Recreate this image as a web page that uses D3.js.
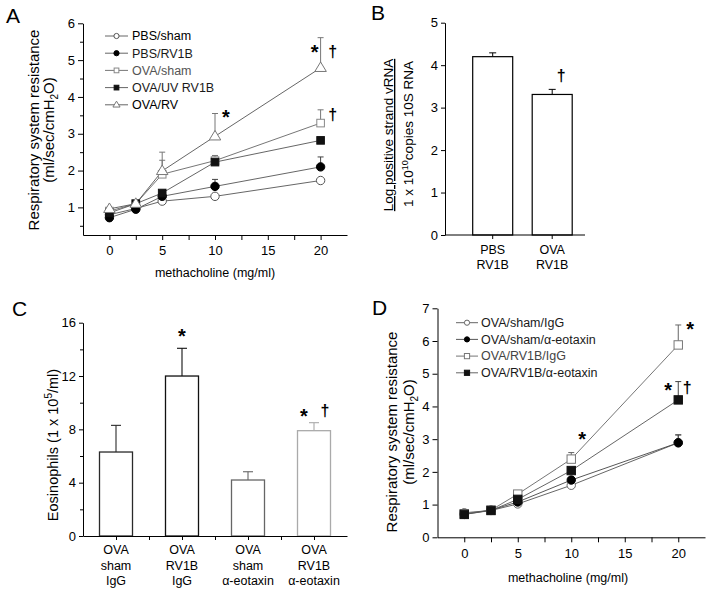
<!DOCTYPE html>
<html><head><meta charset="utf-8">
<script src="https://cdn.jsdelivr.net/npm/d3@7"></script>
<style>
body{margin:0;background:#fff;}
svg{display:block;font-family:"Liberation Sans",Arial,sans-serif;}
</style></head>
<body><svg id="c" width="709" height="591"></svg>
<script>
// ---------- DATA ----------
const doseA = [0, 2.5, 5, 10, 20];
const seriesNamesA = ["PBS/sham", "PBS/RV1B", "OVA/sham", "OVA/UV RV1B", "OVA/RV"];
const valsPBSsham = [0.80, 0.97, 1.17, 1.30, 1.73];
const valsPBSrv = [0.72, 0.95, 1.30, 1.57, 2.10];
const valsOVAsham = [0.90, 1.10, 1.90, 2.27, 3.29];
const valsOVAuv = [0.85, 1.10, 1.39, 2.23, 2.82];
const valsOVArv = [0.96, 1.10, 1.99, 2.93, 4.79];
const errPBSsham = [null, null, null, null, null];
const errPBSrv = [null, null, null, 1.76, 2.37];
const errOVAsham = [null, null, 2.28, 2.41, 3.65];
const errOVAuv = [null, null, null, null, null];
const errOVArv = [null, null, 2.50, 3.55, 5.61];
const yTicksA = [1, 2, 3, 4, 5, 6];
const xTicksA = [0, 5, 10, 15, 20];

const catsB = ["PBS RV1B", "OVA RV1B"];
const valsB = [4.20, 3.31];
const errB = [4.29, 3.43];
const yTicksB = [0, 1, 2, 3, 4, 5];

const catsC = ["OVA sham IgG", "OVA RV1B IgG", "OVA sham α-eotaxin", "OVA RV1B α-eotaxin"];
const valsC = [6.3, 12.0, 4.2, 7.9];
const errC = [8.3, 14.08, 4.82, 8.5];
const yTicksC = [0, 4, 8, 12, 16];

const doseD = [0, 2.5, 5, 10, 20];
const seriesNamesD = ["OVA/sham/IgG", "OVA/sham/α-eotaxin", "OVA/RV1B/IgG", "OVA/RV1B/α-eotaxin"];
const valsShamIgG = [0.75, 0.82, 1.02, 1.59, 2.89];
const valsShamEot = [0.70, 0.83, 1.08, 1.75, 2.89];
const valsRvIgG = [0.72, 0.83, 1.32, 2.39, 5.88];
const valsRvEot = [0.70, 0.82, 1.16, 2.04, 4.20];
const errShamIgG = [null, null, null, null, 3.13];
const errShamEot = [null, null, null, null, 3.13];
const errRvIgG = [null, null, null, 2.59, 6.49];
const errRvEot = [null, null, null, null, 4.76];
const yTicksD = [0, 1, 2, 3, 4, 5, 6, 7];
const xTicksD = [0, 5, 10, 15, 20];

// ---------- DRAW ----------
const svg = d3.select("#c");
const FONT = '"Liberation Sans",Arial,sans-serif';
const fmtInt = d3.format("d");

function styleAxis(g){
  g.selectAll("path.domain").attr("stroke","#000").attr("stroke-width",1);
  g.selectAll(".tick line").attr("stroke","#000").attr("stroke-width",1);
  g.selectAll(".tick text").attr("fill","#000").attr("font-size",13).attr("font-family",FONT);
}

function marker(g, type, x, y, s, stroke){
  if(type==="oc") g.append("circle").attr("cx",x).attr("cy",y).attr("r",s).attr("fill","#fff").attr("stroke",stroke).attr("stroke-width",1);
  if(type==="fc") g.append("circle").attr("cx",x).attr("cy",y).attr("r",s).attr("fill","#000").attr("stroke","#000");
  if(type==="os") g.append("rect").attr("x",x-s).attr("y",y-s).attr("width",2*s).attr("height",2*s).attr("fill","#fff").attr("stroke",stroke).attr("stroke-width",1);
  if(type==="fs") g.append("rect").attr("x",x-s).attr("y",y-s).attr("width",2*s).attr("height",2*s).attr("fill","#111").attr("stroke","#111");
  if(type==="ot"){
    const h=s*1.9, w=s*1.15;
    g.append("path").attr("d",`M${x},${y-h*0.62}L${x+w},${y+h*0.38}L${x-w},${y+h*0.38}Z`).attr("fill","#fff").attr("stroke",stroke).attr("stroke-width",1);
  }
}

function star(x, cy){
  svg.append("text").attr("x",x).attr("y",cy+11).attr("text-anchor","middle").attr("font-size",20).attr("font-weight","bold").attr("font-family",FONT).text("*");
}
function dagger(x, cy){
  svg.append("text").attr("x",x).attr("y",cy+4.5).attr("text-anchor","middle").attr("font-size",16).attr("font-weight","bold").attr("font-family",FONT).text("†");
}
function panelLetter(t, x, y){
  svg.append("text").attr("x",x).attr("y",y).attr("font-size",21).attr("font-family",FONT).text(t);
}
function resistanceTitle(x1, x2, cy){
  svg.append("text").attr("transform",`translate(${x1},${cy}) rotate(-90)`).attr("text-anchor","middle")
    .attr("font-size",15).attr("font-family",FONT).text("Respiratory system resistance");
  const t = svg.append("text").attr("transform",`translate(${x2},${cy}) rotate(-90)`).attr("text-anchor","middle")
    .attr("font-size",15).attr("font-family",FONT);
  t.append("tspan").text("(ml/sec/cmH");
  t.append("tspan").attr("font-size",10).attr("dy",4).text("2");
  t.append("tspan").attr("dy",-4).text("O)");
}

function linePanel(cfg){
  const x = d3.scaleLinear().domain(cfg.xDomain).range(cfg.xRange);
  const y = d3.scaleLinear().domain(cfg.yDomain).range(cfg.yRange);
  const g = svg.append("g");
  const ax = g.append("g").attr("transform",`translate(0,${cfg.yRange[0]})`)
    .call(d3.axisBottom(x).tickValues(cfg.xTicks).tickSize(5).tickSizeOuter(0).tickPadding(6).tickFormat(fmtInt));
  styleAxis(ax);
  const axm = g.append("g").attr("transform",`translate(0,${cfg.yRange[0]})`)
    .call(d3.axisBottom(x).tickValues(cfg.xMinor).tickSize(5).tickFormat(""));
  axm.select("path.domain").remove(); styleAxis(axm);
  const ay = g.append("g").attr("transform",`translate(${cfg.xRange[0]},0)`)
    .call(d3.axisLeft(y).tickValues(cfg.yTicks).tickSize(5).tickSizeOuter(0).tickPadding(3).tickFormat(fmtInt));
  styleAxis(ay);
  const aym = g.append("g").attr("transform",`translate(${cfg.xRange[0]},0)`)
    .call(d3.axisLeft(y).tickValues(cfg.yMinor).tickSize(3).tickFormat(""));
  aym.select("path.domain").remove(); styleAxis(aym);
  const line = d3.line().x((d,i)=>x(cfg.dose[i])).y(d=>y(d));
  cfg.series.forEach(s=>{
    g.append("path").attr("d",line(s.vals)).attr("fill","none").attr("stroke",s.line).attr("stroke-width",0.9);
  });
  cfg.series.forEach(s=>{
    s.err.forEach((e,i)=>{
      if(e==null) return;
      const px = x(cfg.dose[i]);
      g.append("line").attr("x1",px).attr("x2",px).attr("y1",y(s.vals[i])).attr("y2",y(e)).attr("stroke",s.ebar).attr("stroke-width",1);
      g.append("line").attr("x1",px-3).attr("x2",px+3).attr("y1",y(e)).attr("y2",y(e)).attr("stroke",s.ebar).attr("stroke-width",1);
    });
  });
  cfg.series.forEach(s=>{
    s.vals.forEach((v,i)=>marker(g, s.type, x(cfg.dose[i]), y(v), s.size, s.mstroke));
  });
  cfg.series.forEach((s,i)=>{
    const ly = cfg.leg.y0 + i*cfg.leg.dy;
    g.append("line").attr("x1",cfg.leg.x0).attr("x2",cfg.leg.x1).attr("y1",ly).attr("y2",ly).attr("stroke",s.line).attr("stroke-width",0.9);
    marker(g, s.type, (cfg.leg.x0+cfg.leg.x1)/2, ly, s.size*0.62, s.mstroke);
    g.append("text").attr("x",cfg.leg.tx).attr("y",ly+4.3).attr("font-size",12.5).attr("font-family",FONT)
      .attr("fill",s.tcol).text(s.name);
  });
  svg.append("text").attr("x",cfg.xTitle[0]).attr("y",cfg.xTitle[1]).attr("text-anchor","middle")
    .attr("font-size",12.5).attr("font-family",FONT).text("methacholine (mg/ml)");
  return {x,y};
}

// ---- Panel A ----
const A = linePanel({
  dose: doseA,
  xDomain: [-2.5, 22.5], xRange: [83, 347],
  yDomain: [0.25, 6], yRange: [235, 23.3],
  xTicks: xTicksA, xMinor: [2.5, 7.5, 12.5, 17.5],
  yTicks: yTicksA, yMinor: [0.5, 1.5, 2.5, 3.5, 4.5, 5.5],
  series: [
    {name:seriesNamesA[0], vals:valsPBSsham, err:errPBSsham, type:"oc", size:4.2, mstroke:"#555", line:"#555", ebar:"#555", tcol:"#000"},
    {name:seriesNamesA[1], vals:valsPBSrv, err:errPBSrv, type:"fc", size:4.2, mstroke:"#000", line:"#555", ebar:"#444", tcol:"#1a1a1a"},
    {name:seriesNamesA[2], vals:valsOVAsham, err:errOVAsham, type:"os", size:3.8, mstroke:"#888", line:"#666", ebar:"#777", tcol:"#555"},
    {name:seriesNamesA[3], vals:valsOVAuv, err:errOVAuv, type:"fs", size:3.8, mstroke:"#111", line:"#555", ebar:"#444", tcol:"#1a1a1a"},
    {name:seriesNamesA[4], vals:valsOVArv, err:errOVArv, type:"ot", size:5, mstroke:"#777", line:"#555", ebar:"#777", tcol:"#000"}
  ],
  leg: {x0:105, x1:128, y0:36, dy:17.2, tx:132},
  xTitle: [215, 277]
});
resistanceTitle(39, 54, 130);
panelLetter("A", 6, 23);
star(A.x(20)-6, 48); dagger(A.x(20)+12, 52);
dagger(A.x(20)+12, 115);
star(A.x(10)+11, 113);

// ---- Panel D ----
const D = linePanel({
  dose: doseD,
  xDomain: [-2.5, 22.5], xRange: [437.5, 705],
  yDomain: [0, 7], yRange: [537.3, 308.3],
  xTicks: xTicksD, xMinor: [2.5, 7.5, 12.5, 17.5],
  yTicks: yTicksD, yMinor: [],
  series: [
    {name:seriesNamesD[0], vals:valsShamIgG, err:errShamIgG, type:"oc", size:4.2, mstroke:"#666", line:"#555", ebar:"#666", tcol:"#1a1a1a"},
    {name:seriesNamesD[1], vals:valsShamEot, err:errShamEot, type:"fc", size:4.2, mstroke:"#000", line:"#444", ebar:"#444", tcol:"#1a1a1a"},
    {name:seriesNamesD[2], vals:valsRvIgG, err:errRvIgG, type:"os", size:4.2, mstroke:"#777", line:"#666", ebar:"#666", tcol:"#444"},
    {name:seriesNamesD[3], vals:valsRvEot, err:errRvEot, type:"fs", size:4.2, mstroke:"#111", line:"#555", ebar:"#444", tcol:"#1a1a1a"}
  ],
  leg: {x0:456, x1:478, y0:322.7, dy:16.7, tx:481},
  xTitle: [568, 582]
});
resistanceTitle(397, 414, 432);
panelLetter("D", 372, 315);
star(D.x(20)+12, 325);
star(D.x(20)-10, 386); dagger(D.x(20)+9, 388);
star(D.x(10)+11, 435);

// ---- Panel B ----
(function(){
  const y = d3.scaleLinear().domain([0,5]).range([235, 22.7]);
  const x = d3.scalePoint().domain(catsB).range([492.7, 552.2]);
  const g = svg.append("g");
  const bw = 40;
  catsB.forEach((c,i)=>{
    const cx = x(c);
    g.append("line").attr("x1",cx).attr("x2",cx).attr("y1",y(valsB[i])).attr("y2",y(errB[i])).attr("stroke","#000");
    g.append("line").attr("x1",cx-3.5).attr("x2",cx+3.5).attr("y1",y(errB[i])).attr("y2",y(errB[i])).attr("stroke","#000");
    g.append("rect").attr("x",cx-bw/2).attr("y",y(valsB[i])).attr("width",bw).attr("height",y(0)-y(valsB[i]))
      .attr("fill","#fff").attr("stroke","#000").attr("stroke-width",1.2);
  });
  const ay = g.append("g").attr("transform","translate(445,0)")
    .call(d3.axisLeft(y).tickValues(yTicksB).tickSize(4).tickSizeOuter(0).tickPadding(3).tickFormat(fmtInt));
  styleAxis(ay);
  g.append("line").attr("x1",445).attr("x2",585).attr("y1",235).attr("y2",235).attr("stroke","#000");
  catsB.forEach(c=>{
    g.append("line").attr("x1",x(c)).attr("x2",x(c)).attr("y1",235).attr("y2",239).attr("stroke","#000");
    const parts = c.split(" ");
    parts.forEach((p,j)=>g.append("text").attr("x",x(c)).attr("y",254+j*15).attr("text-anchor","middle")
      .attr("font-size",12.5).attr("font-family",FONT).text(p));
  });
  svg.append("text").attr("transform","translate(393,135) rotate(-90)").attr("text-anchor","middle")
    .attr("font-size",13.5).attr("font-family",FONT).attr("text-decoration","underline").text("Log positive strand vRNA");
  const t = svg.append("text").attr("transform","translate(413,134) rotate(-90)").attr("text-anchor","middle")
    .attr("font-size",13.5).attr("font-family",FONT);
  t.append("tspan").text("1 x 10");
  t.append("tspan").attr("font-size",9).attr("dy",-5).text("10");
  t.append("tspan").attr("dy",5).text("copies 10S RNA");
  dagger(x(catsB[1])+9, 76);
  panelLetter("B", 371, 20);
})();

// ---- Panel C ----
(function(){
  const y = d3.scaleLinear().domain([0,16]).range([536, 322.7]);
  const x = d3.scaleLinear().domain([0.5, 4.5]).range([83, 347]);
  const g = svg.append("g");
  const cols = ["#2a2a2a", "#111", "#666", "#aaa"];
  const bw = 33;
  catsC.forEach((c,i)=>{
    const cx = x(i+1);
    g.append("line").attr("x1",cx).attr("x2",cx).attr("y1",y(valsC[i])).attr("y2",y(errC[i])).attr("stroke",cols[i]).attr("stroke-width",1.1);
    g.append("line").attr("x1",cx-5).attr("x2",cx+5).attr("y1",y(errC[i])).attr("y2",y(errC[i])).attr("stroke",cols[i]).attr("stroke-width",1.1);
    g.append("rect").attr("x",cx-bw/2).attr("y",y(valsC[i])).attr("width",bw).attr("height",y(0)-y(valsC[i]))
      .attr("fill","#fff").attr("stroke",cols[i]).attr("stroke-width",1.3);
  });
  const ay = g.append("g").attr("transform","translate(83,0)")
    .call(d3.axisLeft(y).tickValues(yTicksC).tickSize(4).tickSizeOuter(0).tickPadding(3).tickFormat(fmtInt));
  styleAxis(ay);
  const aym = g.append("g").attr("transform","translate(83,0)")
    .call(d3.axisLeft(y).tickValues([2,6,10,14]).tickSize(3).tickFormat(""));
  aym.select("path.domain").remove(); styleAxis(aym);
  const ax = g.append("g").attr("transform","translate(0,536)")
    .call(d3.axisBottom(x).tickValues([1,1.5,2,2.5,3,3.5,4]).tickSize(4).tickSizeOuter(0).tickFormat(""));
  styleAxis(ax);
  catsC.forEach((c,i)=>{
    const parts = c.split(" ");
    parts.forEach((p,j)=>g.append("text").attr("x",x(i+1)).attr("y",554+j*15.5).attr("text-anchor","middle")
      .attr("font-size",12.5).attr("font-family",FONT).text(p));
  });
  const t = svg.append("text").attr("transform","translate(58,445) rotate(-90)").attr("text-anchor","middle")
    .attr("font-size",14.5).attr("font-family",FONT);
  t.append("tspan").text("Eosinophils (1 x 10");
  t.append("tspan").attr("font-size",10).attr("dy",-6).text("5");
  t.append("tspan").attr("dy",6).text("/ml)");
  star(x(2), 332);
  star(x(4)-10, 412); dagger(x(4)+11, 411);
  panelLetter("C", 12, 316);
})();
</script></body></html>
